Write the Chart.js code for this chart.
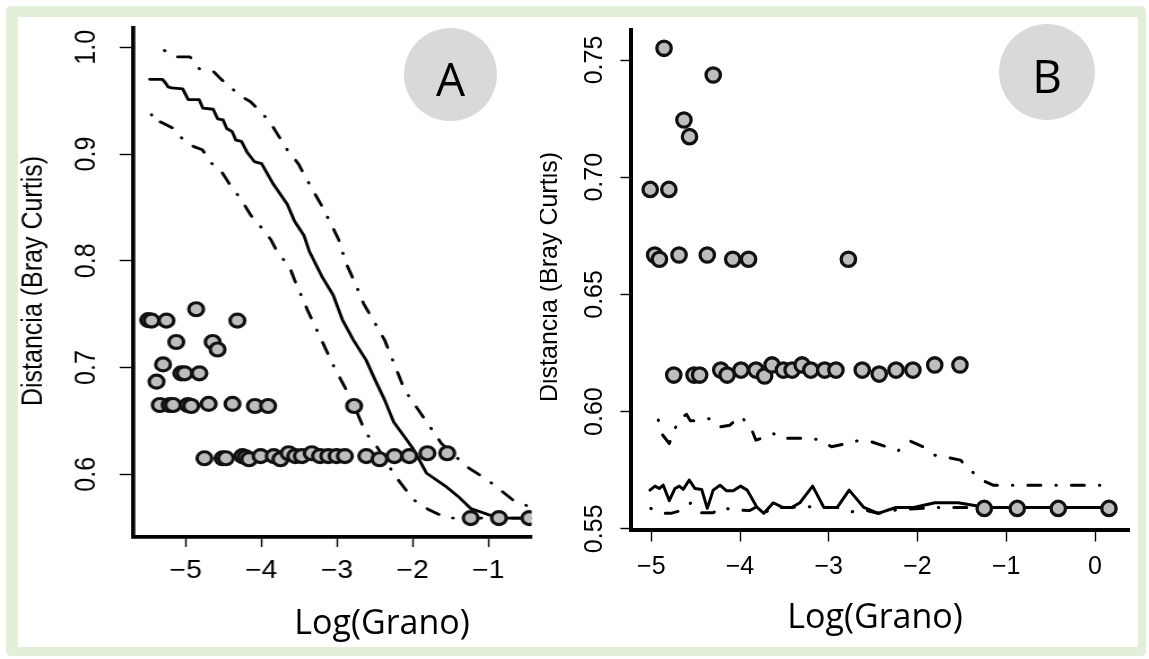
<!DOCTYPE html>
<html lang="es">
<head>
<meta charset="utf-8">
<title>Distancia (Bray Curtis) vs Log(Grano)</title>
<script src="https://cdn.jsdelivr.net/npm/chart.js@4.4.1/dist/chart.umd.min.js"></script>
<style>
  html, body { margin: 0; padding: 0; background: #fff; }
  #page { position: relative; width: 1149px; height: 659px; overflow: hidden; background: #fff; }
  #frame { position: absolute; left: 6px; top: 6px; width: 1140px; height: 650px; box-sizing: border-box;
           border: solid #e2efd9; border-width: 11px 8px 9px 12px; border-radius: 5px; }
  #wrapA { position: absolute; left: 0; top: 0; width: 480px; height: 659px;
           transform: scaleX(1.13); transform-origin: 0 0; }
  #wrapB { position: absolute; left: 540px; top: 0; width: 609px; height: 659px; }
  .xtitle { position: absolute; font-family: "Open Sans", sans-serif; font-size: 34px; line-height: 1.362;
            white-space: nowrap; transform: translateX(-50%); color: #000; }
  .badge { position: absolute; border-radius: 50%; background: #d9d9d9; }
  .badge span { position: absolute; left: 0; right: 0; text-align: center; color: #000;
                font-family: "Open Sans", sans-serif; font-size: 46px; line-height: 1.362; }
</style>
</head>
<body>
<div id="page">
  <div id="frame"></div>
  <div id="wrapA"><canvas id="chartA" width="480" height="659"></canvas></div>
  <div id="wrapB"><canvas id="chartB" width="609" height="659"></canvas></div>
  <div class="xtitle" style="left:382px; top:598px;">Log(Grano)</div>
  <div class="xtitle" style="left:875px; top:592px;">Log(Grano)</div>
  <div class="badge" style="left:404px; top:28px; width:93px; height:93px;"><span style="top:19px;">A</span></div>
  <div class="badge" style="left:999px; top:24px; width:96px; height:96px;"><span style="top:20px;">B</span></div>
</div>
<script>
// Panel A
const xTicksA = [-5, -4, -3, -2, -1];
const yTicksA = [0.6, 0.7, 0.8, 0.9, 1.0];
const yTickLabelsA = ['0.6', '0.7', '0.8', '0.9', '1.0'];

const obsAx = [-5.495, -5.451, -5.254, -4.861, -4.316,
               -5.124, -4.643, -4.578,
               -5.299, -5.385, -5.058, -5.014, -4.818,
               -5.342, -5.211, -5.167, -4.971, -4.927, -4.696, -4.381, -4.084, -3.910, -2.773,
               -4.752, -4.512, -4.468, -4.250, -4.206, -4.162, -4.009, -3.835, -3.747, -3.638, -3.551,
               -3.464, -3.333, -3.224, -3.115, -3.005, -2.895, -2.612, -2.437, -2.240, -2.044, -1.804, -1.542,
               -1.232, -0.858, -0.456];
const obsAy = [0.7445, 0.744, 0.744, 0.7546, 0.744,
               0.724, 0.724, 0.717,
               0.703, 0.6868, 0.6946, 0.6946, 0.6946,
               0.665, 0.665, 0.665, 0.665, 0.664, 0.666, 0.666, 0.664, 0.664, 0.664,
               0.615, 0.615, 0.615, 0.6171, 0.616, 0.6141, 0.6171, 0.6171, 0.6141, 0.6197, 0.6171,
               0.6171, 0.6197, 0.6171, 0.6171, 0.6171, 0.6171, 0.6171, 0.6141, 0.6171, 0.6171, 0.6197, 0.6197,
               0.559, 0.559, 0.559];

const meanAx = [-5.475, -5.306, -5.26, -5.233, -5.184, -5.039, -4.966, -4.821, -4.772, -4.636, -4.578,
                -4.505, -4.457, -4.384, -4.336, -4.263, -4.190, -4.093, -3.996, -3.851, -3.657, -3.560,
                -3.438, -3.366, -3.196, -3.050, -2.929, -2.784, -2.614, -2.493, -2.371, -2.250, -2.105,
                -1.984, -1.814, -1.547, -1.377, -1.232, -0.989, -0.844, -0.43];
const meanAy = [0.970, 0.970, 0.966, 0.963, 0.962, 0.961, 0.951, 0.951, 0.943, 0.942, 0.933,
                0.932, 0.924, 0.921, 0.913, 0.912, 0.902, 0.893, 0.891, 0.873, 0.853, 0.837,
                0.824, 0.809, 0.785, 0.768, 0.745, 0.726, 0.707, 0.688, 0.670, 0.649, 0.635,
                0.623, 0.601, 0.588, 0.578, 0.568, 0.562, 0.559, 0.559];

const upperAx = [-5.281, -5.12, -4.942, -4.821, -4.627, -4.530, -4.384, -4.214, -4.142, -3.972, -3.851,
                 -3.657, -3.511, -3.342, -3.196, -3.075, -2.978, -2.881, -2.759, -2.648, -2.444, -2.371,
                 -2.105, -1.862, -1.620, -1.280, -1.014, -0.674, -0.43];
const upperAy = [0.997, 0.991, 0.991, 0.980, 0.977, 0.970, 0.961, 0.952, 0.949, 0.937, 0.926,
                 0.904, 0.891, 0.869, 0.851, 0.834, 0.820, 0.798, 0.779, 0.760, 0.735, 0.726,
                 0.679, 0.654, 0.629, 0.607, 0.595, 0.576, 0.569];

const lowerAx = [-5.451, -5.44, -5.330, -5.16, -5.015, -4.893, -4.78, -4.651, -4.530, -4.43, -4.263,
                 -4.142, -3.972, -3.875, -3.778, -3.63, -3.56, -3.39, -3.113, -3.041, -2.808, -2.614,
                 -2.517, -2.226, -1.984, -1.790, -1.547, -0.43];
const lowerAy = [0.937, 0.931, 0.930, 0.924, 0.912, 0.907, 0.904, 0.891, 0.884, 0.873, 0.857,
                 0.843, 0.829, 0.820, 0.807, 0.795, 0.782, 0.754, 0.712, 0.701, 0.670, 0.638,
                 0.631, 0.598, 0.576, 0.567, 0.559, 0.559];

// Panel B
const xTicksB = [-5, -4, -3, -2, -1, 0];
const yTicksB = [0.55, 0.60, 0.65, 0.70, 0.75];
const yTickLabelsB = ['0.55', '0.60', '0.65', '0.70', '0.75'];

const obsBx = [-4.856, -4.302, -4.632, -4.569, -5.012, -4.802, -4.962, -4.908, -4.687, -4.369, -4.082, -3.904, -2.779,
               -4.747, -4.518, -4.455, -4.217, -4.145, -3.989, -3.820, -3.723, -3.639, -3.511, -3.413,
               -3.300, -3.202, -3.046, -2.919, -2.623, -2.432, -2.242, -2.052, -1.806, -1.522,
               -1.248, -0.876, -0.414, 0.157];
const obsBy = [0.755, 0.7436, 0.7244, 0.7173, 0.6948, 0.6948, 0.6668, 0.665, 0.6668, 0.6668, 0.665, 0.665, 0.665,
               0.6156, 0.6156, 0.6156, 0.6177, 0.6156, 0.6177, 0.6177, 0.6152, 0.6199, 0.6177, 0.6177,
               0.6199, 0.6177, 0.6177, 0.6177, 0.6177, 0.616, 0.6177, 0.6177, 0.6199, 0.6199,
               0.5587, 0.5587, 0.5587, 0.5587];

const meanBx = [-5.015, -4.958, -4.910, -4.865, -4.797, -4.733, -4.685, -4.640, -4.572, -4.508, -4.432, -4.369,
                -4.302, -4.226, -4.151, -4.077, -3.994, -3.919, -3.813, -3.731, -3.626, -3.520, -3.419, -3.325,
                -3.182, -3.055, -2.905, -2.770, -2.605, -2.444, -2.244, -2.042, -1.805, -1.543, -1.223, 0.146];
const meanBy = [0.5665, 0.5682, 0.5672, 0.5686, 0.5620, 0.5672, 0.5682, 0.5668, 0.5708, 0.5672, 0.5668, 0.5587,
                0.5665, 0.5686, 0.5662, 0.5662, 0.5682, 0.5665, 0.5594, 0.5566, 0.5611, 0.5591, 0.5591, 0.5611,
                0.5682, 0.5591, 0.5591, 0.5665, 0.5591, 0.5566, 0.5591, 0.5591, 0.5611, 0.5611, 0.5591, 0.5591];

const upperBx = [-4.921, -4.872, -4.797, -4.733, -4.66, -4.602, -4.56, -4.482, -4.331, -4.226, -4.114, -3.994,
                 -3.92, -3.881, -3.821, -3.73, -3.626, -3.55, -3.408, -3.250, -3.119, -2.969, -2.819, -2.680,
                 -2.518, -2.349, -2.218, -2.079, -1.937, -1.805, -1.667, -1.516, -1.411, -1.291, -1.149, 0.146];
const upperBy = [0.5964, 0.5900, 0.5864, 0.5928, 0.5975, 0.5988, 0.5961, 0.5961, 0.5971, 0.5935, 0.5942, 0.5981,
                 0.5950, 0.5935, 0.5878, 0.5890, 0.5907, 0.5886, 0.5886, 0.5886, 0.5881, 0.5850, 0.5862, 0.5875,
                 0.5871, 0.5850, 0.5833, 0.5874, 0.5850, 0.5814, 0.5805, 0.5793, 0.5753, 0.5711, 0.5686, 0.5686];

const lowerBx = [-5.005, -4.921, -4.85, -4.78, -4.64, -4.556, -4.44, -4.302, -4.226, -4.039, -3.889, -3.813,
                 -3.731, -3.626, -3.52, -3.42, -3.213, -3.055, -2.905, -2.737, -2.605, -2.444, -2.244, -1.8,
                 -1.223, 0.146];
const lowerBy = [0.5587, 0.5570, 0.5566, 0.5566, 0.5580, 0.5610, 0.5568, 0.5568, 0.5591, 0.5580, 0.5578, 0.5594,
                 0.5566, 0.5591, 0.5591, 0.5591, 0.5594, 0.5591, 0.5591, 0.5573, 0.5580, 0.5566, 0.5580, 0.5591,
                 0.5591, 0.5591];

// helpers
function pairs(xs, ys) {
    return xs.map((x, i) => ({ x: x, y: ys[i] }));
}

function minusLabel(v) {
    return v < 0 ? '\u2212' + Math.abs(v) : String(v);
}

// draws the rotated y tick labels and the y title (R style, reading upwards)
const yLabelPlugin = {
    id: 'yLabels',
    afterDraw(chart, args, opts) {
        const ctx = chart.ctx;
        const ys = chart.scales.y;
        ctx.save();
        ctx.fillStyle = '#000';
        ctx.textAlign = 'center';
        ctx.textBaseline = 'alphabetic';
        ctx.font = opts.tickSize + 'px "Liberation Sans", Arial, sans-serif';
        opts.values.forEach((v, i) => {
            ctx.save();
            ctx.translate(opts.tickX, ys.getPixelForValue(v));
            ctx.rotate(-Math.PI / 2);
            ctx.fillText(opts.labels[i], 0, 0);
            ctx.restore();
        });
        ctx.font = opts.titleSize + 'px "Liberation Sans", Arial, sans-serif';
        ctx.translate(opts.titleX, opts.titleY);
        ctx.rotate(-Math.PI / 2);
        ctx.fillText(opts.title, 0, 0);
        ctx.restore();
    }
};

function makePanel(id, p) {
    const ctx = document.getElementById(id).getContext('2d');
    const lineStyle = {
        showLine: true,
        pointRadius: 0,
        borderColor: '#000',
        borderWidth: p.lineWidth,
        borderCapStyle: 'round',
        borderJoinStyle: 'round',
        fill: false
    };
    return new Chart(ctx, {
        type: 'scatter',
        data: {
            datasets: [
                {
                    label: 'observado',
                    data: p.obs,
                    pointRadius: p.pointRadius,
                    pointBackgroundColor: '#bdbdbd',
                    pointBorderColor: '#111',
                    pointBorderWidth: p.pointBorder,
                    clip: { left: 20, top: 20, right: 0, bottom: 20 }
                },
                Object.assign({ label: 'media', data: p.mean }, lineStyle),
                Object.assign({ label: 'superior', data: p.upper, borderDash: p.dash }, lineStyle),
                Object.assign({ label: 'inferior', data: p.lower, borderDash: p.dash }, lineStyle)
            ]
        },
        options: {
            responsive: false,
            animation: false,
            events: [],
            layout: { padding: { left: 0, top: p.top, right: p.width - p.right, bottom: 0 } },
            plugins: {
                legend: { display: false },
                tooltip: { enabled: false },
                yLabels: {
                    values: p.yTicks,
                    labels: p.yTickLabels,
                    tickX: p.yTickX,
                    tickSize: p.fontSize,
                    title: 'Distancia (Bray Curtis)',
                    titleX: p.titleX,
                    titleY: p.titleY,
                    titleSize: p.fontSize
                }
            },
            scales: {
                x: {
                    type: 'linear',
                    min: p.xMin,
                    max: p.xMax,
                    afterFit: s => { s.height = p.height - p.bottom; },
                    afterBuildTicks: s => { s.ticks = p.xTicks.map(v => ({ value: v })); },
                    border: { display: true, color: '#000', width: p.axisWidth },
                    grid: { drawOnChartArea: false, drawTicks: true, tickLength: p.xTickLen, tickWidth: 1.4, tickColor: '#000' },
                    ticks: {
                        color: '#000',
                        padding: p.xTickPad,
                        maxRotation: 0,
                        autoSkip: false,
                        font: { family: '"Liberation Sans", Arial, sans-serif', size: p.fontSize },
                        callback: v => minusLabel(v)
                    }
                },
                y: {
                    type: 'linear',
                    min: p.yMin,
                    max: p.yMax,
                    afterFit: s => { s.width = p.left; },
                    afterBuildTicks: s => { s.ticks = p.yTicks.map(v => ({ value: v })); },
                    border: { display: true, color: '#000', width: p.axisWidth },
                    grid: { drawOnChartArea: false, drawTicks: true, tickLength: p.yTickLen, tickWidth: 1.4, tickColor: '#000' },
                    ticks: { display: false }
                }
            }
        },
        plugins: [yLabelPlugin]
    });
}

document.addEventListener('DOMContentLoaded', () => {
    makePanel('chartA', {
        obs: pairs(obsAx, obsAy), mean: pairs(meanAx, meanAy),
        upper: pairs(upperAx, upperAy), lower: pairs(lowerAx, lowerAy),
        xTicks: xTicksA, yTicks: yTicksA, yTickLabels: yTickLabelsA,
        xMin: -5.693, xMax: -0.427, yMin: 0.5413, yMax: 1.0181,
        width: 480, height: 659, left: 117.9, right: 473.5, top: 28, bottom: 537,
        lineWidth: 2.8, pointRadius: 6.5, pointBorder: 3.1, axisWidth: 3.7,
        dash: [0.5, 13, 12, 13], xTickLen: 10, yTickLen: 12, xTickPad: 8.7,
        fontSize: 25, yTickX: 84, titleX: 37, titleY: 281
    });
    makePanel('chartB', {
        obs: pairs(obsBx, obsBy), mean: pairs(meanBx, meanBy),
        upper: pairs(upperBx, upperBy), lower: pairs(lowerBx, lowerBy),
        xTicks: xTicksB, yTicks: yTicksB, yTickLabels: yTickLabelsB,
        xMin: -5.224, xMax: 0.383, yMin: 0.5497, yMax: 0.7628,
        width: 609, height: 659, left: 91.4, right: 589, top: 30, bottom: 529.5,
        lineWidth: 3, pointRadius: 7.2, pointBorder: 3.3, axisWidth: 4,
        dash: [0.5, 15, 13, 15], xTickLen: 12, yTickLen: 11, xTickPad: 10.5,
        fontSize: 25, yTickX: 62, titleX: 17, titleY: 277
    });
});
</script>
</body>
</html>
